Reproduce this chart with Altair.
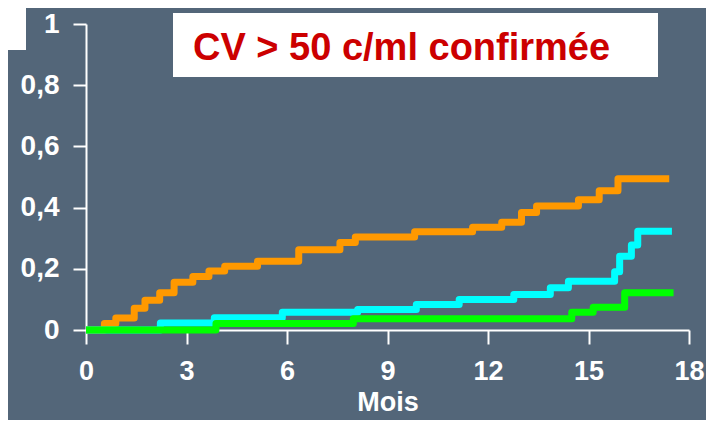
import altair as alt
import pandas as pd

# Kaplan-Meier style cumulative curves
orange_t = [0, 0.55, 0.89, 1.44, 1.76, 2.20, 2.63, 3.19, 3.67, 4.14, 5.12, 6.35, 7.58, 8.04,
            9.81, 11.54, 12.41, 13.0, 13.45, 14.70, 15.32, 15.88, 17.41]
orange_v = [0, 0.021, 0.039, 0.071, 0.097, 0.122, 0.156, 0.175, 0.193, 0.208, 0.225, 0.262, 0.286, 0.304,
            0.321, 0.336, 0.352, 0.384, 0.405, 0.426, 0.455, 0.494, 0.494]

cyan_t = [0, 2.22, 3.83, 5.86, 8.11, 9.86, 11.14, 12.77, 13.86, 14.40, 15.78, 15.93, 16.28, 16.47, 17.49]
cyan_v = [0, 0.023, 0.040, 0.058, 0.067, 0.083, 0.100, 0.116, 0.138, 0.159, 0.190, 0.241, 0.278, 0.323, 0.323]

green_t = [0, 3.88, 7.98, 14.50, 15.14, 16.08, 17.54]
green_v = [0, 0.021, 0.037, 0.058, 0.074, 0.122, 0.122]

x_ticks = [0, 3, 6, 9, 12, 15, 18]
y_ticks = [0, 0.2, 0.4, 0.6, 0.8, 1]

series = [("orange", orange_t, orange_v, "#FF9900"),
          ("cyan", cyan_t, cyan_v, "#00FFFF"),
          ("green", green_t, green_v, "#00FF00")]

BG = "#536679"
FONT = "Liberation Sans"

x_scale = alt.Scale(domain=[0, 18], nice=False)
y_scale = alt.Scale(domain=[0, 1], nice=False)

x_axis = alt.Axis(values=x_ticks, title="Mois", tickSize=14, labelPadding=14,
                  labelFontSize=27, titleFontSize=27, titlePadding=5,
                  labelFont=FONT, titleFont=FONT, labelFontWeight="bold", titleFontWeight="bold",
                  labelColor="white", titleColor="white", domainColor="white", tickColor="white",
                  domainWidth=2, tickWidth=2, grid=False, labelFlush=False, labelOverlap=False)
y_axis = alt.Axis(values=y_ticks, title=None, tickSize=13, labelPadding=14,
                  labelFontSize=28, labelFont=FONT, labelFontWeight="bold",
                  labelExpr="replace(format(datum.value, '~g'), '.', ',')",
                  labelColor="white", domainColor="white", tickColor="white",
                  domainWidth=2, tickWidth=2, grid=False, labelFlush=False, labelOverlap=False)

layers = []
for name, ts, vs, col in series:
    df = pd.DataFrame({"t": ts, "v": vs})
    layer = alt.Chart(df).mark_line(
        interpolate="step-after", color=col, strokeWidth=7,
        strokeJoin="round", strokeCap="butt", clip=False
    ).encode(
        x=alt.X("t:Q", scale=x_scale, axis=x_axis),
        y=alt.Y("v:Q", scale=y_scale, axis=y_axis),
    )
    layers.append(layer)

# annotation box with the title text
box = alt.Chart(pd.DataFrame({"a": [0]})).mark_rect(color="white").encode(
    x=alt.value(87), x2=alt.value(572), y=alt.value(-11), y2=alt.value(53))
label = alt.Chart(pd.DataFrame({"a": [0]})).mark_text(
    text="CV > 50 c/ml confirmée", color="#CC0000", font=FONT, fontWeight="bold",
    fontSize=38, align="left", baseline="alphabetic").encode(
    x=alt.value(107), y=alt.value(36))
corner = alt.Chart(pd.DataFrame({"a": [0]})).mark_rect(color="white").encode(
    x=alt.value(-95), x2=alt.value(-60), y=alt.value(-30), y2=alt.value(26))

chart = alt.layer(*layers, corner, box, label).properties(
    width=603, height=306,
    background=BG,
    autosize=alt.AutoSizeParams(type="none"),
    padding={"left": 78, "top": 16, "right": 17, "bottom": 90},
).configure_view(stroke=None)

chart.save("out.html", embed_options={"renderer": "svg", "actions": False})
